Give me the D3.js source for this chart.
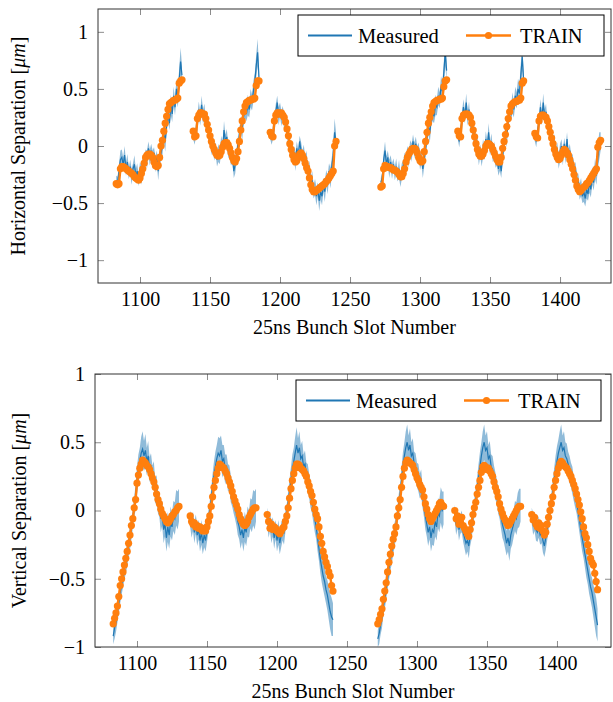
<!DOCTYPE html>
<html><head><meta charset="utf-8">
<script src="https://cdn.jsdelivr.net/npm/d3@7"></script>
<style>body{margin:0;background:#fff}svg{display:block}</style>
</head><body><svg id="c" width="613" height="702"></svg>
<script>
// ---------------- data ----------------
const trainStarts = [1083, 1138, 1193, 1272, 1327, 1382];   // first bunch slot of each 48-bunch train
const xTickValues = [1100, 1150, 1200, 1250, 1300, 1350, 1400];
const yTickValues = [-1, -0.5, 0, 0.5, 1];
const legendLabels = ["Measured", "TRAIN"];
const xLabel = "25ns Bunch Slot Number";

// Horizontal separation [um]
const hTrain1 = [-0.33,-0.34,-0.33,-0.20,-0.18,-0.18,-0.19,-0.20,-0.21,-0.22,-0.23,-0.24,-0.25,-0.27,-0.28,-0.29,-0.30,-0.28,-0.24,-0.20,-0.15,-0.10,-0.08,-0.07,-0.07,-0.08,-0.10,-0.14,-0.17,-0.18,-0.17,-0.10,0.00,0.05,0.13,0.20,0.26,0.32,0.37,0.38,0.39,0.40,0.40,0.41,0.42,0.55,0.57,0.58];
const hTrain2 = [0.13,0.08,0.09,0.24,0.27,0.29,0.29,0.28,0.28,0.24,0.19,0.14,0.09,0.04,0.00,-0.03,-0.06,-0.08,-0.09,-0.08,-0.05,-0.01,0.02,0.03,0.03,0.01,-0.02,-0.06,-0.10,-0.13,-0.14,-0.11,-0.05,0.04,0.14,0.22,0.30,0.35,0.38,0.39,0.40,0.40,0.41,0.41,0.42,0.53,0.57,0.57];
const hTrain3 = [0.12,0.09,0.08,0.22,0.27,0.29,0.29,0.28,0.29,0.27,0.25,0.21,0.15,0.09,0.02,-0.03,-0.08,-0.12,-0.14,-0.13,-0.10,-0.07,-0.06,-0.08,-0.11,-0.15,-0.19,-0.22,-0.28,-0.34,-0.38,-0.40,-0.40,-0.39,-0.38,-0.37,-0.36,-0.35,-0.34,-0.33,-0.31,-0.30,-0.28,-0.26,-0.24,-0.22,0.00,0.04];
const hTrain4 = [-0.36,-0.35,-0.20,-0.17,-0.18,-0.18,-0.19,-0.19,-0.20,-0.21,-0.21,-0.22,-0.23,-0.25,-0.27,-0.27,-0.24,-0.20,-0.14,-0.10,-0.07,-0.05,-0.03,-0.02,-0.02,-0.03,-0.06,-0.10,-0.13,-0.14,-0.13,-0.05,0.04,0.12,0.20,0.25,0.30,0.35,0.38,0.39,0.40,0.40,0.41,0.41,0.42,0.52,0.57,0.58];
const hTrain5 = [0.13,0.09,0.08,0.24,0.27,0.28,0.28,0.28,0.27,0.25,0.20,0.14,0.08,0.02,-0.03,-0.07,-0.09,-0.09,-0.07,-0.04,0.00,0.02,0.02,0.01,0.00,-0.03,-0.06,-0.09,-0.12,-0.14,-0.14,-0.10,-0.02,0.04,0.10,0.17,0.24,0.30,0.35,0.37,0.38,0.39,0.39,0.40,0.40,0.42,0.55,0.57];
const hTrain6 = [0.11,0.08,0.07,0.22,0.26,0.27,0.27,0.26,0.25,0.22,0.17,0.12,0.07,0.02,-0.03,-0.07,-0.10,-0.12,-0.11,-0.08,-0.05,-0.03,-0.04,-0.06,-0.08,-0.12,-0.16,-0.20,-0.25,-0.30,-0.35,-0.38,-0.40,-0.39,-0.37,-0.36,-0.35,-0.33,-0.32,-0.30,-0.28,-0.26,-0.24,-0.22,-0.20,-0.01,0.03,0.05];

const hMeas1 = [-0.30,-0.32,-0.22,-0.12,-0.10,-0.16,-0.08,-0.20,-0.14,-0.24,-0.18,-0.27,-0.20,-0.16,-0.26,-0.22,-0.30,-0.20,-0.26,-0.14,-0.18,-0.08,-0.12,-0.02,-0.10,-0.04,-0.12,-0.06,-0.16,-0.10,-0.22,-0.12,-0.06,0.00,0.10,0.04,0.18,0.30,0.20,0.36,0.28,0.44,0.34,0.50,0.42,0.58,0.74,0.62];
const hMeas2 = [0.10,0.06,0.14,0.20,0.32,0.24,0.36,0.26,0.30,0.20,0.22,0.10,0.12,0.00,0.04,-0.06,-0.02,-0.12,-0.06,-0.10,0.02,-0.02,0.14,0.04,0.08,-0.04,-0.02,-0.12,-0.08,-0.22,-0.16,-0.08,0.02,0.08,0.18,0.14,0.26,0.32,0.28,0.36,0.32,0.42,0.38,0.48,0.56,0.70,0.82,0.60];
const hMeas3 = [0.10,0.06,0.12,0.18,0.30,0.38,0.26,0.32,0.24,0.30,0.20,0.22,0.12,0.08,0.00,-0.04,-0.10,-0.06,-0.14,-0.02,-0.10,0.04,-0.04,-0.10,-0.06,-0.16,-0.12,-0.24,-0.20,-0.34,-0.30,-0.40,-0.36,-0.44,-0.38,-0.48,-0.40,-0.44,-0.34,-0.40,-0.28,-0.34,-0.22,-0.28,-0.18,-0.08,0.12,0.04];
const hMeas4 = [-0.32,-0.28,-0.12,-0.04,-0.16,-0.10,-0.20,-0.14,-0.22,-0.16,-0.24,-0.18,-0.26,-0.20,-0.30,-0.22,-0.18,-0.12,-0.16,-0.06,-0.12,0.00,-0.06,0.04,-0.04,0.02,-0.08,-0.02,-0.14,-0.10,-0.20,-0.12,-0.02,0.08,0.16,0.12,0.24,0.30,0.26,0.36,0.34,0.44,0.40,0.52,0.48,0.64,0.82,0.66];
const hMeas5 = [0.10,0.04,0.14,0.22,0.34,0.26,0.38,0.24,0.32,0.18,0.22,0.10,0.12,-0.02,0.02,-0.10,-0.04,-0.12,-0.02,-0.06,0.06,0.00,0.12,-0.02,0.04,-0.08,-0.04,-0.14,-0.10,-0.20,-0.14,-0.22,-0.08,0.02,0.12,0.08,0.24,0.30,0.28,0.38,0.32,0.44,0.40,0.50,0.46,0.62,0.78,0.58];
const hMeas6 = [0.08,0.04,0.14,0.20,0.34,0.24,0.38,0.26,0.30,0.18,0.22,0.08,0.14,0.00,0.04,-0.08,-0.02,-0.14,-0.06,0.00,-0.10,0.02,-0.08,0.06,-0.10,-0.04,-0.16,-0.12,-0.24,-0.20,-0.32,-0.30,-0.40,-0.36,-0.44,-0.40,-0.46,-0.38,-0.42,-0.32,-0.38,-0.26,-0.32,-0.20,-0.26,-0.10,0.00,0.04];
// spread of the measurement by bunch position within the train
const hSpread = [0.04,0.05,0.06,0.08,0.07,0.06,0.08,0.06,0.07,0.05,0.06,0.07,0.05,0.08,0.06,0.07,0.05,0.06,0.08,0.06,0.07,0.05,0.08,0.06,0.07,0.06,0.08,0.05,0.07,0.06,0.08,0.06,0.07,0.08,0.06,0.09,0.07,0.08,0.06,0.09,0.07,0.08,0.07,0.09,0.08,0.10,0.12,0.08];

// Vertical separation [um]
const vTrain1 = [-0.83,-0.79,-0.75,-0.70,-0.63,-0.55,-0.50,-0.45,-0.40,-0.35,-0.30,-0.24,-0.18,-0.11,-0.06,0.02,0.08,0.20,0.26,0.31,0.34,0.37,0.36,0.35,0.33,0.32,0.30,0.27,0.24,0.21,0.17,0.12,0.08,0.05,0.01,-0.02,-0.04,-0.06,-0.08,-0.09,-0.08,-0.06,-0.04,-0.03,-0.01,0.00,0.02,0.03];
const vTrain2 = [-0.04,-0.08,-0.10,-0.09,-0.12,-0.11,-0.13,-0.12,-0.14,-0.15,-0.13,-0.15,-0.12,-0.08,-0.04,0.03,0.10,0.17,0.22,0.27,0.31,0.34,0.33,0.32,0.31,0.29,0.27,0.24,0.21,0.18,0.14,0.10,0.07,0.04,0.01,-0.03,-0.06,-0.08,-0.10,-0.11,-0.10,-0.08,-0.05,-0.03,-0.01,0.01,0.02,0.02];
const vTrain3 = [-0.03,-0.08,-0.13,-0.10,-0.14,-0.12,-0.13,-0.15,-0.16,-0.17,-0.15,-0.13,-0.12,-0.08,-0.04,0.02,0.09,0.16,0.22,0.27,0.31,0.34,0.34,0.33,0.31,0.30,0.29,0.27,0.25,0.21,0.18,0.14,0.11,0.06,0.01,-0.03,-0.06,-0.12,-0.19,-0.24,-0.30,-0.34,-0.38,-0.41,-0.45,-0.48,-0.55,-0.59];
const vTrain4 = [-0.83,-0.80,-0.76,-0.72,-0.65,-0.59,-0.53,-0.45,-0.38,-0.32,-0.26,-0.21,-0.17,-0.12,-0.04,0.02,0.08,0.17,0.25,0.31,0.35,0.37,0.36,0.35,0.34,0.33,0.30,0.27,0.24,0.22,0.19,0.17,0.15,0.10,0.05,0.01,-0.03,-0.06,-0.08,-0.06,-0.04,-0.02,0.00,0.02,0.05,0.06,0.04,0.03];
const vTrain5 = [0.00,-0.06,-0.04,-0.10,-0.08,-0.05,-0.11,-0.13,-0.15,-0.17,-0.19,-0.14,-0.09,-0.03,0.02,0.06,0.12,0.17,0.22,0.28,0.32,0.33,0.32,0.30,0.31,0.29,0.27,0.25,0.21,0.17,0.14,0.10,0.05,0.01,-0.02,-0.05,-0.07,-0.09,-0.11,-0.10,-0.08,-0.06,-0.04,-0.02,0.00,0.02,0.03,0.03];
const vTrain6 = [-0.03,-0.07,-0.05,-0.10,-0.12,-0.09,-0.13,-0.11,-0.15,-0.18,-0.16,-0.10,-0.05,0.00,0.05,0.10,0.17,0.22,0.27,0.31,0.34,0.36,0.35,0.33,0.32,0.31,0.29,0.27,0.25,0.22,0.19,0.16,0.12,0.08,0.04,-0.01,-0.06,-0.12,-0.17,-0.20,-0.25,-0.30,-0.35,-0.38,-0.40,-0.46,-0.52,-0.58];

const vMeas1 = [-0.92,-0.86,-0.82,-0.74,-0.68,-0.60,-0.55,-0.48,-0.42,-0.38,-0.32,-0.26,-0.20,-0.13,-0.06,0.02,0.10,0.22,0.30,0.36,0.42,0.45,0.40,0.44,0.36,0.40,0.30,0.32,0.24,0.26,0.14,0.16,0.06,0.04,-0.06,-0.02,-0.14,-0.10,-0.20,-0.12,-0.18,-0.08,-0.12,-0.04,-0.06,0.02,0.00,0.04];
const vMeas2 = [-0.06,-0.12,-0.08,-0.16,-0.10,-0.18,-0.14,-0.22,-0.16,-0.24,-0.18,-0.22,-0.14,-0.08,0.00,0.08,0.18,0.26,0.32,0.38,0.42,0.40,0.44,0.36,0.38,0.30,0.32,0.24,0.24,0.16,0.12,0.08,0.02,-0.02,-0.08,-0.12,-0.18,-0.14,-0.20,-0.12,-0.16,-0.08,-0.10,-0.02,-0.04,0.02,0.00,0.04];
const vMeas3 = [-0.04,-0.12,-0.08,-0.16,-0.12,-0.20,-0.14,-0.22,-0.16,-0.24,-0.18,-0.14,-0.16,-0.08,-0.02,0.06,0.14,0.22,0.30,0.36,0.42,0.48,0.42,0.46,0.38,0.40,0.32,0.34,0.26,0.24,0.18,0.12,0.06,0.00,-0.06,-0.12,-0.20,-0.28,-0.36,-0.42,-0.48,-0.52,-0.58,-0.62,-0.68,-0.74,-0.78,-0.80];
const vMeas4 = [-0.94,-0.90,-0.84,-0.78,-0.70,-0.64,-0.58,-0.50,-0.42,-0.36,-0.30,-0.24,-0.18,-0.12,-0.04,0.04,0.12,0.22,0.32,0.40,0.46,0.50,0.44,0.48,0.40,0.42,0.34,0.32,0.26,0.24,0.18,0.20,0.10,0.04,-0.04,-0.10,-0.16,-0.12,-0.20,-0.14,-0.16,-0.08,-0.12,-0.02,-0.04,0.04,0.00,0.02];
const vMeas5 = [-0.02,-0.10,-0.06,-0.14,-0.10,-0.08,-0.16,-0.20,-0.24,-0.22,-0.26,-0.18,-0.12,-0.04,0.02,0.08,0.16,0.24,0.32,0.40,0.46,0.50,0.44,0.46,0.38,0.40,0.32,0.30,0.24,0.18,0.14,0.08,0.02,-0.04,-0.10,-0.14,-0.18,-0.24,-0.20,-0.26,-0.18,-0.14,-0.10,-0.04,-0.06,0.00,0.02,0.04];
const vMeas6 = [-0.04,-0.10,-0.08,-0.14,-0.16,-0.12,-0.18,-0.16,-0.22,-0.26,-0.20,-0.14,-0.06,0.00,0.06,0.14,0.22,0.30,0.36,0.42,0.46,0.50,0.44,0.46,0.40,0.38,0.34,0.30,0.26,0.22,0.16,0.12,0.06,0.00,-0.06,-0.14,-0.20,-0.26,-0.32,-0.38,-0.44,-0.50,-0.56,-0.60,-0.66,-0.72,-0.78,-0.84];
const vSpread = [0.06,0.08,0.07,0.08,0.07,0.08,0.07,0.08,0.09,0.08,0.09,0.08,0.09,0.08,0.07,0.08,0.09,0.10,0.11,0.10,0.12,0.13,0.11,0.12,0.10,0.11,0.09,0.10,0.09,0.10,0.09,0.10,0.08,0.09,0.10,0.09,0.10,0.09,0.10,0.11,0.10,0.11,0.10,0.11,0.12,0.13,0.14,0.12];

// ---------------- drawing ----------------
const BLUE = "#1f77b4", ORANGE = "#ff7f0e";
const FONT = "'Liberation Serif','Times New Roman',serif";
const FS = 20;
const svg = d3.select("#c");
svg.append("rect").attr("width", 613).attr("height", 702).attr("fill", "#fff");

const panels = [
  { left: 98, right: 611, top: 9, bottom: 283, xDomain: [1070, 1436.4], yDomain: [-1.2, 1.2],
    train: [hTrain1,hTrain2,hTrain3,hTrain4,hTrain5,hTrain6], meas: [hMeas1,hMeas2,hMeas3,hMeas4,hMeas5,hMeas6], spread: hSpread,
    yLabel: "Horizontal Separation [", yLabelX: 18, legend: { x: 298, y: 15, w: 306, h: 41 } },
  { left: 95, right: 611, top: 374, bottom: 647, xDomain: [1070, 1438.6], yDomain: [-1, 1],
    train: [vTrain1,vTrain2,vTrain3,vTrain4,vTrain5,vTrain6], meas: [vMeas1,vMeas2,vMeas3,vMeas4,vMeas5,vMeas6], spread: vSpread,
    yLabel: "Vertical Separation [", yLabelX: 19, legend: { x: 296, y: 380, w: 305, h: 41 } }
];

const fmt = v => (v < 0 ? "\u2212" : "") + String(Math.abs(v));

panels.forEach((p, pi) => {
  const x = d3.scaleLinear().domain(p.xDomain).range([p.left, p.right]);
  const y = d3.scaleLinear().domain(p.yDomain).range([p.bottom, p.top]);
  const g = svg.append("g");
  const clipId = "clip" + pi;
  g.append("clipPath").attr("id", clipId).append("rect")
    .attr("x", p.left).attr("y", p.top).attr("width", p.right - p.left).attr("height", p.bottom - p.top);
  const plot = g.append("g").attr("clip-path", `url(#${clipId})`);

  const series = p.train.map((tr, i) => tr.map((t, j) => ({
    s: trainStarts[i] + j, t: t, m: p.meas[i][j], sd: p.spread[j]
  })));

  // measured band + line
  series.forEach(pts => {
    plot.append("path").datum(pts)
      .attr("d", d3.area().x(d => x(d.s)).y0(d => y(d.m - d.sd)).y1(d => y(d.m + d.sd)))
      .attr("fill", BLUE).attr("fill-opacity", 0.5).attr("stroke", "none");
    plot.append("path").datum(pts)
      .attr("d", d3.line().x(d => x(d.s)).y(d => y(d.m)))
      .attr("fill", "none").attr("stroke", BLUE).attr("stroke-width", 1.2);
  });
  // TRAIN line + markers
  series.forEach(pts => {
    plot.append("path").datum(pts)
      .attr("d", d3.line().x(d => x(d.s)).y(d => y(d.t)))
      .attr("fill", "none").attr("stroke", ORANGE).attr("stroke-width", 2.4).attr("stroke-linejoin", "round");
    plot.selectAll(null).data(pts).enter().append("circle")
      .attr("cx", d => x(d.s)).attr("cy", d => y(d.t)).attr("r", 3.6).attr("fill", ORANGE);
  });

  // axes (inward ticks on all four sides)
  const styleAxis = sel => {
    sel.select(".domain").remove();
    sel.selectAll(".tick line").attr("stroke", "#8c8c8c").attr("stroke-width", 1);
    sel.selectAll("text").attr("font-family", FONT).attr("font-size", FS).attr("fill", "#000");
  };
  g.append("g").attr("transform", `translate(0,${p.bottom})`)
    .call(d3.axisBottom(x).tickValues(xTickValues).tickFormat(d3.format("d")).tickSizeInner(-6).tickSizeOuter(0).tickPadding(9))
    .call(styleAxis);
  g.append("g").attr("transform", `translate(0,${p.top})`)
    .call(d3.axisTop(x).tickValues(xTickValues).tickFormat("").tickSizeInner(-6).tickSizeOuter(0))
    .call(styleAxis);
  g.append("g").attr("transform", `translate(${p.left},0)`)
    .call(d3.axisLeft(y).tickValues(yTickValues).tickFormat(fmt).tickSizeInner(-6).tickSizeOuter(0).tickPadding(10))
    .call(styleAxis);
  g.append("g").attr("transform", `translate(${p.right},0)`)
    .call(d3.axisRight(y).tickValues(yTickValues).tickFormat("").tickSizeInner(-6).tickSizeOuter(0))
    .call(styleAxis);

  g.append("rect").attr("x", p.left).attr("y", p.top).attr("width", p.right - p.left).attr("height", p.bottom - p.top)
    .attr("fill", "none").attr("stroke", "#333").attr("stroke-width", 1);

  // axis labels
  g.append("text").attr("x", (p.left + p.right) / 2).attr("y", p.bottom + 51)
    .attr("text-anchor", "middle").attr("font-family", FONT).attr("font-size", FS).text(xLabel);
  const yl = g.append("text").attr("transform", `translate(${p.yLabelX},${(p.top + p.bottom) / 2}) rotate(-90)`)
    .attr("text-anchor", "middle").attr("dy", "0.35em").attr("font-family", FONT).attr("font-size", FS);
  yl.append("tspan").text(p.yLabel);
  yl.append("tspan").attr("font-style", "italic").text("\u03bcm");
  yl.append("tspan").text("]");

  // legend
  const L = p.legend;
  const lg = g.append("g");
  lg.append("rect").attr("x", L.x).attr("y", L.y).attr("width", L.w).attr("height", L.h)
    .attr("fill", "#fff").attr("stroke", "#000").attr("stroke-width", 1);
  const cy = L.y + L.h / 2;
  lg.append("line").attr("x1", L.x + 10).attr("x2", L.x + 54).attr("y1", cy).attr("y2", cy)
    .attr("stroke", BLUE).attr("stroke-width", 2);
  lg.append("text").attr("x", L.x + 60).attr("y", cy).attr("dy", "0.35em")
    .attr("font-family", FONT).attr("font-size", 20.5).text(legendLabels[0]);
  lg.append("line").attr("x1", L.x + 168).attr("x2", L.x + 213).attr("y1", cy).attr("y2", cy)
    .attr("stroke", ORANGE).attr("stroke-width", 2.4);
  lg.append("circle").attr("cx", L.x + 190.5).attr("cy", cy).attr("r", 3.6).attr("fill", ORANGE);
  lg.append("text").attr("x", L.x + 222).attr("y", cy).attr("dy", "0.35em")
    .attr("font-family", FONT).attr("font-size", 20.5).text(legendLabels[1]);
});
</script>
</body></html>
